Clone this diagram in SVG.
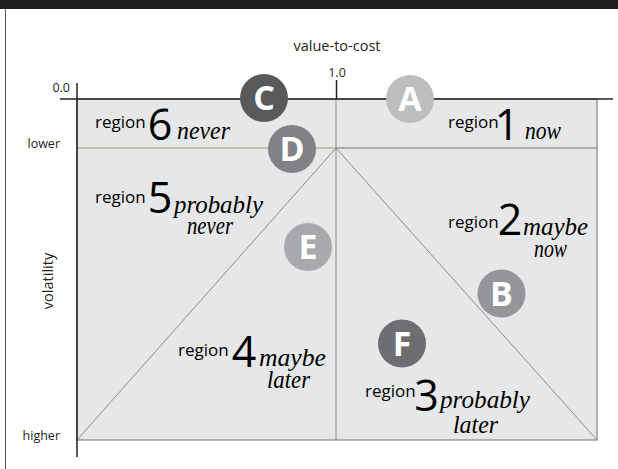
<svg xmlns="http://www.w3.org/2000/svg" width="618" height="469" viewBox="0 0 618 469">
<style>
.ax{font-family:"Open Sans","Liberation Sans",sans-serif;font-size:12.5px;fill:#231f20}
.big{font-size:14.5px}
.rg{font-family:"Open Sans","Liberation Sans",sans-serif;font-size:17px;fill:#000}
.dg{font-family:"Open Sans","Liberation Sans",sans-serif;font-size:43px;fill:#000;text-anchor:middle}
.it{font-family:"Liberation Serif",serif;font-style:italic;font-weight:normal;font-size:25px;fill:#000}
.cl{font-family:"Open Sans","Liberation Sans",sans-serif;font-weight:bold;font-size:34px;fill:#fff;text-anchor:middle}
.thin{stroke:#8c8c8c;stroke-width:1;fill:none}
</style>
<rect x="0" y="0" width="618" height="469" fill="#fff"/>
<rect x="0" y="0" width="618" height="9" fill="#1e1e1e"/>
<line x1="5.5" y1="9" x2="5.5" y2="469" stroke="#555" stroke-width="1"/>
<g id="plot">
<rect x="77" y="99" width="520" height="341" fill="#e6e7e8" stroke="#9a9a9a" stroke-width="1.5"/>
</g>
<g id="connectors">
<line x1="77" y1="148" x2="336" y2="148" stroke="#b4b49c" stroke-width="1.5"/>
<line x1="336" y1="148" x2="597" y2="148" stroke="#9a9a9a" stroke-width="1.5"/>
<line class="thin" x1="336" y1="99" x2="336" y2="440"/>
<line class="thin" x1="336" y1="148" x2="77" y2="440"/>
<line class="thin" x1="336" y1="148" x2="597" y2="440"/>
<line x1="60" y1="99" x2="613" y2="99" stroke="#231f20" stroke-width="1.5"/>
<line x1="77" y1="83" x2="77" y2="457" stroke="#231f20" stroke-width="1.5"/>
<line x1="336.5" y1="80" x2="336.5" y2="99" stroke="#231f20" stroke-width="1.5"/>
</g>
<g id="axis-labels">
<text class="ax big" x="337" y="51" text-anchor="middle">value-to-cost</text>
<text class="ax" x="337" y="77" text-anchor="middle">1.0</text>
<text class="ax" x="70" y="92" text-anchor="end">0.0</text>
<text class="ax" x="60" y="148" text-anchor="end">lower</text>
<text class="ax" x="60" y="440" text-anchor="end">higher</text>
<text class="ax big" transform="translate(53,281) rotate(-90)" text-anchor="middle">volatility</text>
</g>
<g id="region6">
<text class="rg" x="95" y="128">region</text>
<text class="dg" x="160" y="140">6</text>
<text class="it" x="177" y="139" textLength="53" lengthAdjust="spacingAndGlyphs">never</text>
</g>
<g id="region1">
<text class="rg" x="448" y="128">region</text>
<text class="dg" x="507" y="140">1</text>
<text class="it" x="525" y="139" textLength="36" lengthAdjust="spacingAndGlyphs">now</text>
</g>
<g id="region5">
<text class="rg" x="95" y="203">region</text>
<text class="dg" x="160" y="213">5</text>
<text class="it" x="174" y="213" textLength="89" lengthAdjust="spacingAndGlyphs">probably</text>
<text class="it" x="187" y="234" textLength="46" lengthAdjust="spacingAndGlyphs">never</text>
</g>
<g id="region2">
<text class="rg" x="448" y="228">region</text>
<text class="dg" x="510" y="235">2</text>
<text class="it" x="523" y="235" textLength="65" lengthAdjust="spacingAndGlyphs">maybe</text>
<text class="it" x="534" y="257" textLength="33" lengthAdjust="spacingAndGlyphs">now</text>
</g>
<g id="region4">
<text class="rg" x="178" y="356">region</text>
<text class="dg" x="244" y="366.5">4</text>
<text class="it" x="259" y="366" textLength="67" lengthAdjust="spacingAndGlyphs">maybe</text>
<text class="it" x="267" y="388" textLength="43" lengthAdjust="spacingAndGlyphs">later</text>
</g>
<g id="region3">
<text class="rg" x="365" y="397">region</text>
<text class="dg" x="426.5" y="411">3</text>
<text class="it" x="440" y="408" textLength="90" lengthAdjust="spacingAndGlyphs">probably</text>
<text class="it" x="453" y="433" textLength="45" lengthAdjust="spacingAndGlyphs">later</text>
</g>
<g id="nodeC"><circle cx="264" cy="98" r="24" fill="#58595b"/><text class="cl" x="264" y="110">C</text></g>
<g id="nodeA"><circle cx="410" cy="99" r="24" fill="#bcbec0"/><text class="cl" x="410" y="111">A</text></g>
<g id="nodeD"><circle cx="292" cy="149" r="24" fill="#808285"/><text class="cl" x="292" y="161">D</text></g>
<g id="nodeE"><circle cx="308" cy="247" r="24" fill="#a7a9ac"/><text class="cl" x="308" y="259">E</text></g>
<g id="nodeB"><circle cx="501.5" cy="293.5" r="24" fill="#939598"/><text class="cl" x="501.5" y="305.5">B</text></g>
<g id="nodeF"><circle cx="402" cy="343.5" r="24" fill="#6d6e71"/><text class="cl" x="402" y="355.5">F</text></g>
</svg>
